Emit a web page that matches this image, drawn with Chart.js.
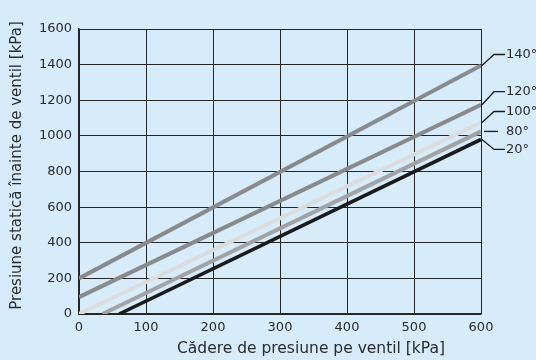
<!DOCTYPE html>
<html lang="ro">
<head>
  <meta charset="UTF-8">
  <title>Presiune statică înainte de ventil</title>
  <style>
    html, body {
      margin: 0;
      padding: 0;
      background-color: #d6ecfb;
    }
    #chart {
      display: block;
    }
  </style>
</head>
<body>
  <canvas id="chart" width="536" height="360"></canvas>

  <script src="https://cdn.jsdelivr.net/npm/chart.js@4/dist/chart.umd.min.js"></script>
  <script>
    // curbe: temperatura -> dreapta (start / sfarsit)
    const SERIES_LABELS = ['140°', '120°', '100°', '80°', '20°'];
    const START_X = [0, 0, 0, 35, 60];
    const START_Y = [200, 95, 0, 0, 0];
    const END_X = [600, 600, 600, 600, 600];
    const END_Y = [1395, 1175, 1075, 1025, 980];

    const X_TICKS = [0, 100, 200, 300, 400, 500, 600];
    const Y_TICKS = [0, 200, 400, 600, 800, 1000, 1200, 1400, 1600];
    const X_TITLE = 'Cădere de presiune pe ventil [kPa]';
    const Y_TITLE = 'Presiune statică înainte de ventil [kPa]';

    const LINE_COLORS = ['#8a8a8a', '#8a8a8a', '#dcdcdc', '#a3a3a3', '#1a1a1a'];
    const LINE_WIDTHS = [4, 4, 4, 4, 3.5];
    // deplasarea etichetei fata de capatul dreptei (px)
    const LABEL_DY = [-11, -13, -11, 0, 10];

    const FONT = '"DejaVu Sans", sans-serif';
    const TEXT_COLOR = '#2b2b2b';
    const GRID_COLOR = '#262626';

    const datasets = SERIES_LABELS.map((label, i) => ({
      label,
      data: [
        { x: START_X[i], y: START_Y[i] },
        { x: END_X[i], y: END_Y[i] }
      ],
      borderColor: LINE_COLORS[i],
      borderWidth: LINE_WIDTHS[i],
      borderCapStyle: 'butt',
      pointRadius: 0,
      fill: false,
      tension: 0
    }));

    const endLabels = {
      id: 'endLabels',
      afterDatasetsDraw(chart) {
        const { ctx, chartArea, scales } = chart;
        ctx.save();
        ctx.strokeStyle = '#1a1a1a';
        ctx.lineWidth = 1.3;
        ctx.fillStyle = TEXT_COLOR;
        ctx.font = '13px ' + FONT;
        ctx.textBaseline = 'middle';
        ctx.textAlign = 'left';
        SERIES_LABELS.forEach((label, i) => {
          const x0 = chartArea.right + 1;
          const y0 = scales.y.getPixelForValue(END_Y[i]);
          const y1 = y0 + LABEL_DY[i];
          ctx.beginPath();
          if (LABEL_DY[i] === 0) {
            ctx.moveTo(x0 + 2, y1);
            ctx.lineTo(x0 + 16, y1);
          } else {
            ctx.moveTo(x0, y0);
            ctx.lineTo(x0 + 12, y1);
            ctx.lineTo(x0 + 23, y1);
          }
          ctx.stroke();
          ctx.fillText(label, x0 + 24, y1);
        });

        // titlul axei x, usor deplasat spre dreapta ca in original
        ctx.font = '15.5px ' + FONT;
        ctx.textAlign = 'center';
        ctx.fillText(X_TITLE, (chartArea.left + chartArea.right) / 2 + 31, chartArea.bottom + 35);

        // titlul axei y, rotit
        ctx.font = '15px ' + FONT;
        ctx.translate(17, (chartArea.top + chartArea.bottom) / 2 - 6);
        ctx.rotate(-Math.PI / 2);
        ctx.fillText(Y_TITLE, 0, 0);
        ctx.restore();
      }
    };

    new Chart(document.getElementById('chart'), {
      type: 'line',
      data: { datasets },
      plugins: [endLabels],
      options: {
        responsive: false,
        animation: false,
        layout: {
          padding: { top: 29, right: 55, left: 0, bottom: 0 }
        },
        plugins: {
          legend: { display: false },
          tooltip: { enabled: false }
        },
        scales: {
          x: {
            type: 'linear',
            min: 0,
            max: 600,
            afterBuildTicks: (scale) => {
              scale.ticks = X_TICKS.map(v => ({ value: v }));
            },
            afterFit: (scale) => {
              scale.height = 46;
            },
            grid: {
              color: GRID_COLOR,
              lineWidth: 1,
              drawTicks: false
            },
            border: { color: GRID_COLOR, width: 1.5 },
            ticks: {
              padding: 6,
              color: TEXT_COLOR,
              font: { family: FONT, size: 13 },
              maxRotation: 0,
              callback: (v) => String(v)
            }
          },
          y: {
            type: 'linear',
            min: 0,
            max: 1600,
            afterBuildTicks: (scale) => {
              scale.ticks = Y_TICKS.map(v => ({ value: v }));
            },
            afterFit: (scale) => {
              scale.width = 79;
            },
            grid: {
              color: GRID_COLOR,
              lineWidth: 1,
              drawTicks: false
            },
            border: { color: GRID_COLOR, width: 1.5 },
            ticks: {
              padding: 7,
              color: TEXT_COLOR,
              font: { family: FONT, size: 13 },
              callback: (v) => String(v)
            }
          }
        }
      }
    });
  </script>
</body>
</html>
